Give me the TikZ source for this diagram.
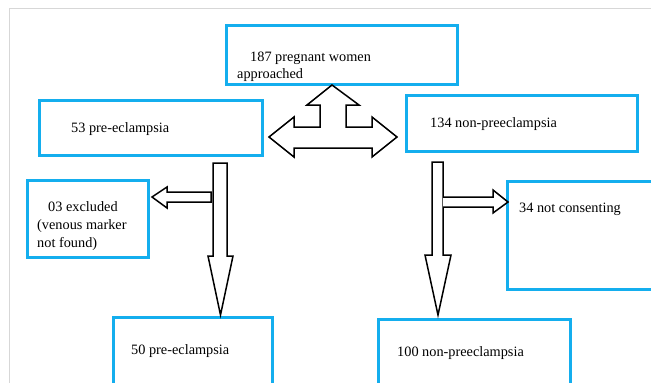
\documentclass[tikz,border=0pt]{standalone}
\usepackage{fontspec}
\setmainfont{Liberation Serif}
\definecolor{boxblue}{RGB}{20,174,238}
\definecolor{framegray}{RGB}{215,215,215}
\tikzset{
  box/.style={draw=boxblue, line width=3pt, fill=white},
  blockarrow/.style={draw=black, line width=1.5pt, fill=white, line join=miter},
  lbl/.style={anchor=base west, inner sep=0pt, font=\fontsize{14.3}{16}\selectfont, text=black}
}
\begin{document}
\begin{tikzpicture}[x=1pt,y=-1pt]
\useasboundingbox (0,0) rectangle (651,383);
\clip (0,0) rectangle (651,383);
\fill[white] (0,0) rectangle (651,383);
% faint page frame
\draw[framegray, line width=0.8pt] (9.5,383) -- (9.5,8.3) -- (651,8.3);

% boxes
\draw[box] (226,25) rectangle (457,84) coordinate (topbox);
\draw[box] (39,100) rectangle (262,155) coordinate (pebox);
\draw[box] (406,95) rectangle (637,151) coordinate (npbox);
\draw[box] (27,180) rectangle (148,257) coordinate (exbox);
\draw[box] (507,181) rectangle (662,289) coordinate (ncbox);
\draw[box] (113,317) rectangle (272,400) coordinate (pe50box);
\draw[box] (378,319) rectangle (570,400) coordinate (np100box);

% texts
\node[lbl] (t1) at (250,61) {187 pregnant women};
\node[lbl] (t2) at (237,78) {approached};
\node[lbl] (t3) at (71,132) {53 pre-eclampsia};
\node[lbl] (t4) at (430,127) {134 non-preeclampsia};
\node[lbl] (t5) at (48,211) {03 excluded};
\node[lbl] (t6) at (37,229) {(venous marker};
\node[lbl] (t7) at (37,247) {not found)};
\node[lbl] (t8) at (519,212) {34 not consenting};
\node[lbl] (t9) at (131,354) {50 pre-eclampsia};
\node[lbl] (t10) at (397,356) {100 non-preeclampsia};

% three-way block arrow
\draw[blockarrow] (332,85) -- (359,105) -- (346,105) -- (346,127) -- (372,127)
  -- (372,117) -- (397,137) -- (372,157) -- (372,148) -- (294,148) -- (294,157)
  -- (269,137) -- (294,117) -- (294,127) -- (320,127) -- (320,105) -- (307,105) -- cycle;

% left vertical block arrow
\draw[blockarrow] (213,163) -- (227,163) -- (227,256) -- (233,256) -- (220.5,315)
  -- (208,256) -- (213,256) -- cycle;
% small left arrow to excluded
\draw[blockarrow] (211,192) -- (211,202) -- (167,202) -- (167,208) -- (152,197)
  -- (167,187) -- (167,192) -- cycle;

% right vertical block arrow
\draw[blockarrow] (432,162) -- (443,162) -- (443,255) -- (451,255) -- (438,315)
  -- (425,255) -- (432,255) -- cycle;
% right arrow to not consenting
\draw[blockarrow] (443,197) -- (493,197) -- (493,190) -- (508,202) -- (493,213)
  -- (493,207) -- (443,207);
\end{tikzpicture}
\end{document}
